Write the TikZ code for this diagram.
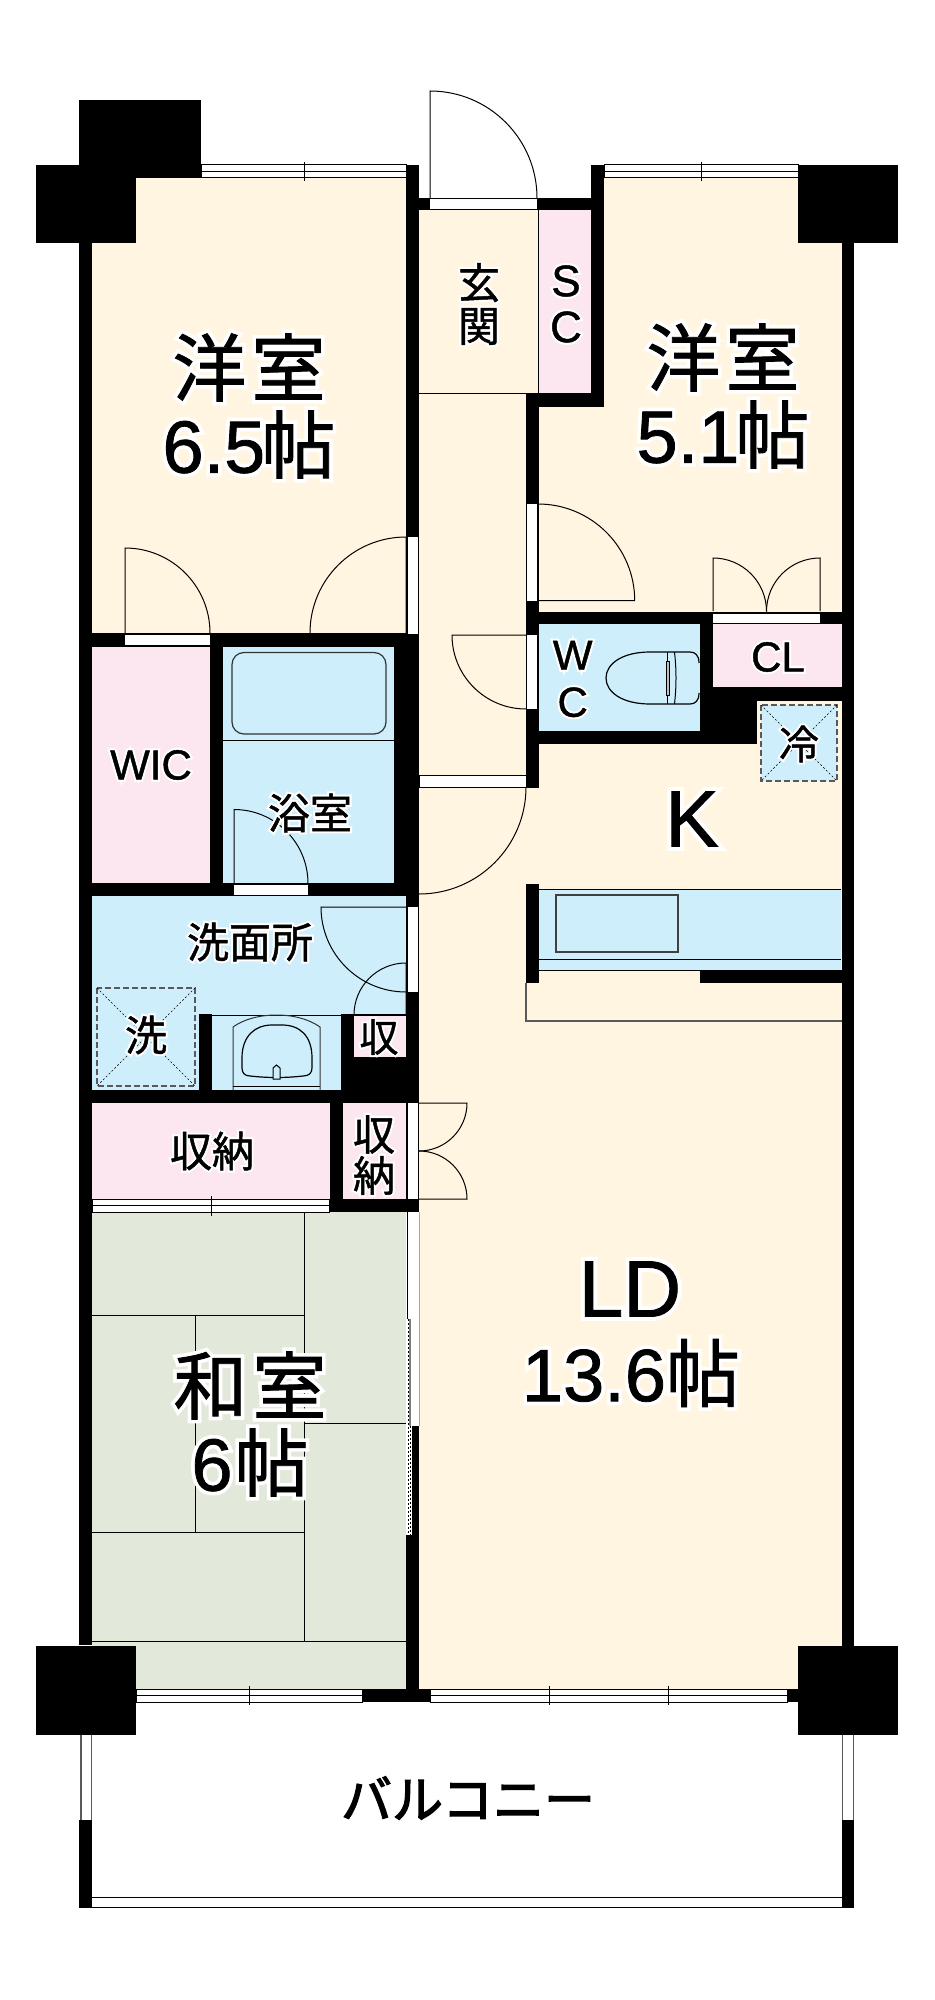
\documentclass[tikz,border=0pt]{standalone}
\usepackage{fontspec}
\setmainfont[FakeBold=1.1]{Liberation Sans}
\newfontfamily\cjk[FakeBold=1.1]{Noto Sans CJK JP}
\newfontfamily\cjkbal[FakeBold=2.5]{Noto Sans CJK JP}
\newfontfamily\cjkhalo[FakeBold=11]{Noto Sans CJK JP}
\newfontfamily\lathalo[FakeBold=11]{Liberation Sans}
\definecolor{cream}{HTML}{FFF5E1}
\definecolor{pinkroom}{HTML}{FCE6F0}
\definecolor{wetroom}{HTML}{CFEEFC}
\definecolor{tatami}{HTML}{E2E8DA}
\newcommand{\J}[1]{\makebox[0pt][l]{\color{white}\cjkhalo #1}{\cjk #1}}
\newcommand{\Lt}[1]{\makebox[0pt][l]{\color{white}\lathalo #1}#1}
\tikzset{
  wall/.style={fill=black},
  thin1/.style={draw=black,line width=0.5pt},
  swing/.style={draw=black,line width=0.5pt},
  gapwhite/.style={fill=white,draw=none},
  gapedge/.style={fill=white,draw=black,line width=0.5pt},
  winedge/.style={fill=white,draw=black,line width=0.5pt},
  grayedge/.style={draw=black!65,line width=0.6pt},
  dashbox/.style={fill=wetroom,draw=black!65,line width=0.6pt,dash pattern=on 3pt off 1.5pt},
  diag/.style={draw=black,line width=0.25pt,dash pattern=on 1pt off 1pt},
  lab/.style={inner sep=0pt,outer sep=0pt,align=center,text=black},
  xl/.style={lab,font=\fontsize{37}{38.5}\selectfont},
  md/.style={lab,font=\fontsize{21}{21.5}\selectfont},
  mdl/.style={lab,font=\fontsize{21}{23.5}\selectfont},
}
\newcommand{\rect}[5][wall]{\path[#1] (#2,#3) rectangle (#4,#5);}
\newcommand{\window}[3]{%
  \path[winedge] (#1,#2) rectangle (#3,#2+13);
  \draw[thin1] (#1,#2+6.5) -- (#3,#2+6.5);}
\begin{document}
\begin{tikzpicture}[x=0.5pt,y=-0.5pt]
\useasboundingbox (0,0) rectangle (934,2000);
% room fills
\rect[fill=cream]{92}{178}{406}{633}
\rect[fill=cream]{419}{210}{538}{1689}
\rect[fill=cream]{526}{407}{842}{1689}
\rect[fill=cream]{604}{178}{842}{612}
\rect[fill=pinkroom]{538}{210}{591}{393}
\rect[fill=pinkroom]{92}{647}{210}{883}
\rect[fill=wetroom]{223}{647}{394}{883}
\rect[fill=wetroom]{92}{896}{406}{1090}
\rect[fill=pinkroom]{92}{1103}{330}{1199}
\rect[fill=pinkroom]{343}{1103}{406}{1199}
\rect[fill=wetroom]{539}{624}{700}{731}
\rect[fill=pinkroom]{712}{624}{842}{687}
\rect[fill=wetroom]{539}{889}{841}{970}
\rect[fill=tatami]{92}{1212}{406}{1689}
% walls
\rect{79}{243}{92}{1645}
\rect{842}{243}{854}{1646}
\rect{79}{100}{201}{178}
\rect{36}{165}{136}{243}
\rect{798}{165}{898}{243}
\rect{36}{1646}{136}{1735}
\rect{798}{1646}{898}{1735}
\rect{406}{165}{419}{1212}
\rect{406}{1535}{419}{1689}
\rect{412}{1426}{419}{1535}
\rect{419}{198}{591}{210}
\rect{591}{165}{604}{407}
\rect{526}{393}{604}{407}
\rect{526}{393}{539}{788}
\rect{526}{612}{854}{624}
\rect{700}{612}{713}{744}
\rect{526}{731}{757}{744}
\rect{713}{687}{842}{701}
\rect{713}{687}{757}{744}
\rect{526}{884}{539}{983}
\rect{700}{970}{854}{983}
\rect{79}{633}{419}{647}
\rect{210}{633}{223}{896}
\rect{394}{647}{419}{896}
\rect{79}{883}{419}{896}
\rect{199}{1014}{212}{1103}
\rect{341}{1014}{406}{1103}
\rect{79}{1090}{419}{1103}
\rect{330}{1103}{343}{1212}
\rect{330}{1199}{419}{1212}
\rect{362}{1689}{430}{1702}
\rect{787}{1689}{798}{1702}
\rect{79}{1820}{92}{1908}
\rect{842}{1820}{854}{1908}
% little rooms cut into the black
\rect[fill=pinkroom]{354}{1016}{406}{1057}
\rect[fill=wetroom]{212}{1014}{341}{1090}
% door gaps
\rect[gapwhite]{408}{537}{418}{634}
\rect[gapwhite]{125}{635}{210}{645}
\rect[gapwhite]{430}{199}{537}{209.5}
\rect[gapwhite]{527}{504}{537}{601}
\rect[gapwhite]{713}{613.5}{820}{623}
\rect[gapwhite]{527}{635}{537}{709}
\rect[gapedge]{419}{775}{526}{787}
\rect[gapwhite]{234}{885}{308}{895}
\rect[gapwhite]{408}{907}{418}{992}
\rect[gapwhite]{408}{1103}{418}{1199}
\rect[gapwhite]{407.5}{1212}{419}{1426}
% windows
\window{201}{165}{406}
\window{604}{165}{798}
\window{92}{1199}{329}
\window{136}{1689}{362}
\window{430}{1689}{787}
\draw[thin1] (304,162) -- (304,181);
\draw[thin1] (701,162) -- (701,181);
\draw[thin1] (211,1196) -- (211,1216);
\draw[thin1] (249,1686) -- (249,1705);
\draw[thin1] (549,1686) -- (549,1705);
\draw[thin1] (668,1686) -- (668,1705);
% partition lines
\draw[thin1] (419,394) -- (526,394);
\draw[thin1] (538.5,210) -- (538.5,393);
\draw[thin1] (223,740) -- (395,740);
\draw[grayedge] (526,983) -- (526,1021) -- (842,1021);
\draw[thin1] (539,970) -- (700,970);
\draw[thin1] (539,889) -- (841,889);
\draw[thin1] (539,959) -- (841,959);
\draw[thin1] (212,1015) -- (341,1015);
\draw[thin1] (418.5,1103) -- (418.5,1199);
% tatami
\draw[thin1] (304,1212) -- (304,1641);
\draw[thin1] (92,1315) -- (304,1315);
\draw[thin1] (92,1532) -- (304,1532);
\draw[thin1] (195,1315) -- (195,1532);
\draw[thin1] (304,1423) -- (406,1423);
\draw[thin1] (92,1641) -- (406,1641);
% sliding door
\draw[thin1] (407,1212) -- (407,1319);
\draw[draw=black,line width=0.5pt,dash pattern=on 1pt off 1pt] (408,1319) -- (408,1535);
\draw[draw=black!50,line width=0.8pt] (410,1319) -- (410,1426);
\draw[draw=black,line width=0.7pt,dash pattern=on 1pt off 1pt] (410.5,1426) -- (410.5,1535);
\draw[draw=black!35,line width=0.5pt] (419,1212) -- (419,1426);
% door swings
\draw[swing] (406,633) -- (406,537) arc[start angle=-90,end angle=-180,radius=96];
\draw[swing] (125,633) -- (125,548) arc[start angle=-90,end angle=0,radius=85];
\draw[swing] (430,198) -- (430,91) arc[start angle=-90,end angle=0,radius=107];
\draw[swing] (538,504) arc[start angle=-90,end angle=0,radius=96.7] -- (538,600.7);
\draw[swing] (713,611) -- (713,558) arc[start angle=-90,end angle=0,radius=53.5];
\draw[swing] (820,611) -- (820,558) arc[start angle=-90,end angle=-180,radius=53.5];
\draw[swing] (526,635) -- (452,635) arc[start angle=180,end angle=90,radius=74];
\draw[swing] (526,787) arc[start angle=0,end angle=90,radius=107];
\draw[swing] (234,883) -- (234,809.5) arc[start angle=-90,end angle=0,radius=74];
\draw[swing] (406,907) -- (321,907) arc[start angle=180,end angle=90,radius=85];
\draw[swing] (406,1015) -- (406,963) arc[start angle=-90,end angle=-180,radius=52];
\draw[swing] (419,1103) -- (467,1103) arc[start angle=0,end angle=90,radius=48];
\draw[swing] (419,1199) -- (467,1199) arc[start angle=0,end angle=-90,radius=48];
% balcony rails
\draw[grayedge] (81,1735) -- (81,1820);
\draw[grayedge] (91.7,1735) -- (91.7,1820);
\draw[grayedge] (842.7,1735) -- (842.7,1820);
\draw[grayedge] (853.3,1735) -- (853.3,1820);
\draw[thin1] (92,1897.5) -- (842,1897.5);
\draw[thin1] (92,1907) -- (842,1907);
% fixtures
\draw[draw=black!80,line width=0.6pt,rounded corners=6pt] (232,652.5) rectangle (386,734);
\draw[draw=black!80,line width=0.5pt] (233,1090) -- (233,1027) .. controls (255,1011) and (298,1011) .. (320,1027) -- (320,1090);
\draw[thin1] (233,1086) -- (320,1086);
\draw[draw=black,line width=0.6pt] (242,1058) .. controls (242,1036) and (255,1025) .. (272,1025) -- (282,1025) .. controls (300,1025) and (312,1036) .. (312,1058) -- (312,1068) .. controls (312,1073) and (309,1076) .. (303,1076) .. controls (285,1078) and (268,1078) .. (250,1076) .. controls (245,1076) and (242,1073) .. (242,1068) -- cycle;
\draw[draw=black,fill=wetroom,line width=0.5pt] (273,1068) -- (276.5,1065) -- (280,1068) -- (280,1079) -- (273,1079) -- cycle;
\draw[draw=black,line width=0.6pt] (699,693) .. controls (699,701) and (695,704) .. (690,704) -- (650,704) .. controls (622,704) and (606,692) .. (606,678) .. controls (606,664) and (622,652) .. (650,652) -- (690,652) .. controls (695,652) and (699,655) .. (699,663);
\draw[thin1] (674.5,652) .. controls (676.5,670) and (676.5,686) .. (674.5,704);
\draw[thin1] (667,652) -- (667,704);
\draw[draw=black,fill=black!25,line width=0.4pt] (666,661) rectangle (669,695);
\path[fill=cream] (757,701) rectangle (842,788);
\path[dashbox] (761,705) rectangle (837,781);
\draw[diag] (761,705) -- (837,781);
\draw[diag] (837,705) -- (761,781);
\path[dashbox] (97,988) rectangle (195,1086);
\draw[diag] (97,988) -- (195,1086);
\draw[diag] (195,988) -- (97,1086);
\draw[draw=black!75,line width=0.55pt] (556,895) rectangle (678,952);
% texts
\node[xl] (r1) at (249,406) {\J{洋\kern2.5pt室}\\\Lt{6.5}\kern-2pt\J{帖}};
\node[xl] (r2) at (723,396) {\J{洋\kern2.5pt室}\\\Lt{5.1}\kern-2pt\J{帖}};
\node[xl] (r3) at (250,1424) {\J{和\kern2.5pt室}\\\Lt{6}\kern1pt\J{帖}};
\node[lab,font=\fontsize{40}{40}\selectfont] (r4) at (630,1289) {\Lt{LD}};
\node[xl] (r5) at (631,1373) {\Lt{13.6}\J{帖}};
\node[lab,font=\fontsize{40}{40}\selectfont] (r6) at (692,819) {\Lt{K}};
\node[md] (t1) at (479,304) {\J{玄}\\\J{関}};
\node[lab,font=\fontsize{22}{23}\selectfont] (t2) at (566,304) {\Lt{S}\\\Lt{C}};
\node[mdl] (t3) at (151,765) {\Lt{WIC}};
\node[md] (t4) at (310,813) {\J{浴室}};
\node[md] (t5) at (250,942) {\J{洗面所}};
\node[md] (t6) at (146,1035) {\J{洗}};
\node[lab,font=\fontsize{19.5}{19.5}\selectfont] (t7) at (379,1037) {\J{収}};
\node[md] (t8) at (212,1151) {\J{収納}};
\node[md,font=\fontsize{21}{20.5}\selectfont] (t9) at (374,1155) {\J{収}\\\J{納}};
\node[lab,font=\fontsize{21}{23.5}\selectfont] (t10) at (572.7,679) {\Lt{W}\\\Lt{C}};
\node[mdl] (t11) at (778,657) {\Lt{CL}};
\node[lab,font=\fontsize{20}{20}\selectfont] (t12) at (799,744) {\J{冷}};
\node[lab,font=\fontsize{25.5}{25.5}\selectfont] (t13) at (468,1798) {{\cjkbal バルコニー}};
\end{tikzpicture}
\end{document}
